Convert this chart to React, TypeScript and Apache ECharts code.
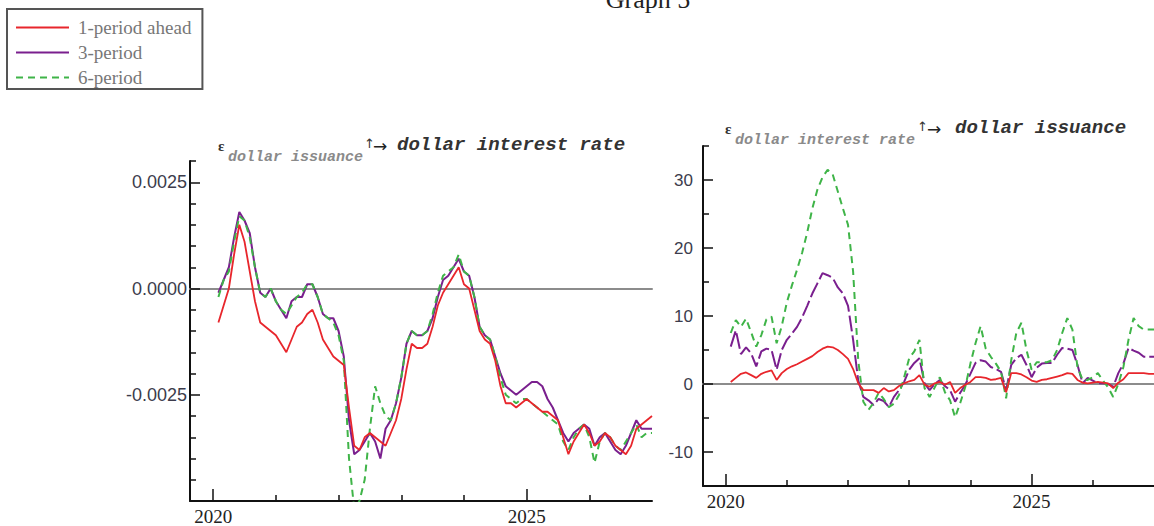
import React, { useEffect, useRef } from "react";
import * as echarts from "echarts";

// Monthly observation dates (decimal years), Feb 2020 .. Jan 2027
const months: number[] = [];
for (let k = 0; k < 84; k++) months.push(+(2020 + (k + 1) / 12).toFixed(4));

// Left panel: response of the dollar interest rate to a dollar-issuance shock
const rate1: number[] = [
  -0.0008, -0.0004, 0.0, 0.0008, 0.0015, 0.0011, 0.0004, -0.0003, -0.0008, -0.0009, -0.001, -0.0011,
  -0.0013, -0.0015, -0.0012, -0.0009, -0.0008, -0.0006, -0.0005, -0.0008, -0.0012, -0.0014, -0.0016, -0.0017,
  -0.0018, -0.0028, -0.0037, -0.0038, -0.0035, -0.0034, -0.0035, -0.0036, -0.0037, -0.0034, -0.0031, -0.0026,
  -0.0019, -0.0013, -0.0014, -0.0014, -0.0013, -0.0009, -0.0004, -0.0001, 0.0001, 0.0003, 0.0005, 0.0001,
  0.0, -0.0005, -0.001, -0.0012, -0.0013, -0.0017, -0.0023, -0.0027, -0.0027, -0.0028, -0.0027, -0.0026,
  -0.0027, -0.0028, -0.0029, -0.0029, -0.003, -0.0031, -0.0035, -0.0039, -0.0036, -0.0034, -0.0032, -0.0034,
  -0.0037, -0.0036, -0.0034, -0.0035, -0.0037, -0.0038, -0.0039, -0.0037, -0.0033, -0.0032, -0.0031, -0.003,
];
const rate3: number[] = [
  -0.0001, 0.0002, 0.0005, 0.0012, 0.0018, 0.0016, 0.0013, 0.0005, -0.0001, -0.0002, 0.0, -0.0003,
  -0.0005, -0.0007, -0.0003, -0.0002, -0.0002, 0.0001, 0.0001, -0.0002, -0.0006, -0.0007, -0.0007, -0.001,
  -0.0016, -0.0031, -0.0039, -0.0038, -0.0036, -0.0034, -0.0036, -0.004, -0.0033, -0.0031, -0.0027, -0.0021,
  -0.0013, -0.001, -0.0011, -0.0011, -0.001, -0.0007, -0.0002, 0.0002, 0.0003, 0.0005, 0.0007, 0.0004,
  0.0003, -0.0002, -0.0009, -0.0011, -0.0012, -0.0016, -0.002, -0.0023, -0.0024, -0.0025, -0.0024, -0.0023,
  -0.0022, -0.0022, -0.0023, -0.0026, -0.0028, -0.0031, -0.0034, -0.0036, -0.0034, -0.0033, -0.0032, -0.0033,
  -0.0037, -0.0035, -0.0034, -0.0036, -0.0038, -0.0039, -0.0037, -0.0034, -0.0031, -0.0033, -0.0033, -0.0033,
];
const rate6: number[] = [
  -0.0002, 0.0002, 0.0004, 0.0011, 0.0017, 0.0016, 0.0012, 0.0005, -0.0001, -0.0002, 0.0, -0.0003,
  -0.0005, -0.0006, -0.0004, -0.0002, -0.0001, 0.0001, 0.0001, -0.0002, -0.0006, -0.0007, -0.0008, -0.0011,
  -0.0017, -0.004, -0.0052, -0.005, -0.0045, -0.0033, -0.0023, -0.0027, -0.003, -0.0031, -0.0027, -0.0021,
  -0.0013, -0.001, -0.0011, -0.0011, -0.001, -0.0006, -0.0001, 0.0003, 0.0004, 0.0005, 0.0008, 0.0004,
  0.0003, -0.0002, -0.0009, -0.0011, -0.0012, -0.0016, -0.0021, -0.0025, -0.0026, -0.0027, -0.0026, -0.0026,
  -0.0027, -0.0028, -0.0029, -0.003, -0.0031, -0.0032, -0.0036, -0.0038, -0.0035, -0.0033, -0.0032, -0.0035,
  -0.0041, -0.0036, -0.0034, -0.0035, -0.0037, -0.0038, -0.0036, -0.0034, -0.0032, -0.0035, -0.0034, -0.0034,
];

// Right panel: response of dollar issuance to a dollar-interest-rate shock
const issue1: number[] = [
  0.3, 0.9, 1.5, 1.7, 1.3, 0.9, 1.5, 1.8, 2.0, 0.6, 1.6, 2.2,
  2.6, 2.9, 3.3, 3.7, 4.1, 4.7, 5.2, 5.5, 5.4, 5.0, 4.4, 3.7,
  2.2, 0.1, -0.9, -0.9, -0.9, -1.3, -0.6, -1.1, -0.9, -0.3, 0.1, 0.4,
  0.6, 1.3, -0.1, -0.4, 0.1, 0.3, -0.1, 0.3, -1.3, -0.6, -0.1, 0.3,
  1.0, 1.0, 0.9, 0.6, 0.7, 0.9, -1.2, 1.6, 1.6, 1.4, 1.0, 0.5,
  0.3, 0.6, 0.7, 0.9, 1.1, 1.3, 1.6, 1.5, 0.6, 0.2, 0.1, 0.2,
  0.3, 0.2, 0.1, -0.6, 0.2, 0.7, 1.6, 1.6, 1.6, 1.6, 1.5, 1.5,
];
const issue3: number[] = [
  5.5, 7.9, 4.4, 5.4, 4.5, 2.6, 4.8, 5.2, 5.0, 2.1, 5.0, 6.5,
  7.4, 8.4, 9.8, 11.5, 13.3, 14.8, 16.3, 16.0, 15.6, 14.2, 13.3, 11.5,
  6.5, 0.5, -1.9, -2.4, -3.1, -2.2, -2.5, -3.4, -1.9, -0.9, 0.3, 2.1,
  3.1, 3.8, 0.1, -0.9, 0.0, 0.6, -0.3, -0.9, -2.6, -1.3, -0.1, 1.5,
  3.1, 3.5, 3.3, 2.5, 2.2, 1.8, -0.9, 2.8, 3.8, 4.3, 2.8, 1.0,
  2.4, 3.0, 3.1, 3.1, 4.3, 5.3, 5.2, 5.0, 2.8, 0.1, 0.9, 0.5,
  0.1, 0.1, 0.0, -0.4, 1.6, 3.0, 5.3, 4.9, 4.6, 4.0, 4.0, 4.0,
];
const issue6: number[] = [
  7.5, 9.4, 8.4, 9.6, 7.6, 5.5, 7.2, 9.5, 9.9, 6.0, 8.5, 12.0,
  14.5, 16.8, 19.3, 22.3, 25.8, 28.6, 30.4, 31.5, 30.8, 28.3, 25.8, 23.4,
  16.5, 3.5, -2.6, -3.8, -2.8, -1.3, -2.2, -3.4, -2.9, -1.6, 1.0, 3.8,
  4.8, 6.5, -0.6, -1.9, -0.5, 1.0, -1.2, -2.4, -4.9, -2.8, -0.4, 3.0,
  6.0, 8.5, 5.2, 4.0, 3.0, 1.8, -2.1, 3.5, 7.5, 9.0, 5.0, 2.1,
  3.2, 3.2, 3.2, 3.5, 5.0, 7.5, 9.7, 8.0, 2.5, 0.6, 0.6, 1.0,
  1.6, 0.5, -0.5, -1.9, 0.0, 2.5, 6.5, 9.7, 8.5, 8.0, 8.0, 8.0,
];

const seriesNames = ["1-period ahead", "3-period", "6-period"];
const majorYears = [2020, 2025];
const minorYears = [2021, 2022, 2023, 2024, 2026];
const rateMajorTicks = [-0.0025, 0, 0.0025];
const rateMinorTicks = [-0.0045, -0.004, -0.0035, -0.003, -0.002, -0.0015, -0.001, -0.0005, 0.0005, 0.001, 0.0015, 0.002, 0.003];
const issueMajorTicks = [-10, 0, 10, 20, 30];
const issueMinorTicks = [-5, 5, 15, 25, 35];

const X_MIN = 2019.63;
const X_MAX = 2027.0;

const RED = "#e8262c";
const PURPLE = "#7a1f8e";
const GREEN = "#3fb448";
const AXIS = "#111";

const pairs = (vals: number[]) => months.map((t, i) => [t, vals[i]]);

function xAxesFor(gridIndex: number) {
  const base = { type: "value", gridIndex, min: X_MIN, max: X_MAX, position: "bottom", splitLine: { show: false } };
  return [
    {
      ...base,
      axisLine: { show: true, onZero: false, lineStyle: { color: AXIS, width: 2 } },
      axisTick: { show: true, inside: true, length: 12, customValues: majorYears, lineStyle: { color: AXIS, width: 1.5 } },
      axisLabel: {
        show: true,
        customValues: majorYears,
        formatter: (v: number) => String(Math.round(v)),
        fontFamily: "Liberation Serif",
        fontSize: 19,
        color: "#222",
        margin: 6,
      },
    },
    {
      ...base,
      axisLine: { show: false, onZero: false },
      axisTick: { show: true, inside: true, length: 6, customValues: minorYears, lineStyle: { color: AXIS, width: 1.5 } },
      axisLabel: { show: false },
    },
    {
      ...base,
      axisLine: { show: true, onZero: true, lineStyle: { color: "#8c8c8c", width: 2 } },
      axisTick: { show: false },
      axisLabel: { show: false },
    },
  ];
}

function yAxesFor(gridIndex: number, min: number, max: number, major: number[], minor: number[], fmt: (v: number) => string, margin: number, size: number) {
  const base = { type: "value", gridIndex, min, max, position: "left", splitLine: { show: false } };
  return [
    {
      ...base,
      axisLine: { show: true, onZero: false, lineStyle: { color: AXIS, width: 2 } },
      axisTick: { show: true, inside: true, length: 10, customValues: major, lineStyle: { color: AXIS, width: 1.5 } },
      axisLabel: { show: true, customValues: major, formatter: fmt, fontFamily: "Liberation Sans", fontSize: size, color: "#3c3c4c", margin },
    },
    {
      ...base,
      axisLine: { show: false, onZero: false },
      axisTick: { show: true, inside: true, length: 6, customValues: minor, lineStyle: { color: AXIS, width: 1.5 } },
      axisLabel: { show: false },
    },
  ];
}

function line(name: string, vals: number[], xi: number, yi: number, color: string, width: number, type: any, z: number) {
  return {
    type: "line",
    name,
    data: pairs(vals),
    xAxisIndex: xi,
    yAxisIndex: yi,
    symbol: "none",
    showSymbol: false,
    clip: true,
    silent: true,
    z,
    itemStyle: { color },
    lineStyle: { color, width, type },
  };
}

const mono = '"Liberation Mono"';

function titleParts(x0: number, yMain: number, sub: string, main: string, subX: number, upX: number, arrowX: number, mainX: number) {
  return [
    { type: "text", x: x0, y: yMain + 1, style: { text: "ε", font: 'bold 15px "Liberation Serif"', fill: "#333", verticalAlign: "middle" } },
    { type: "text", x: subX, y: yMain + 12, style: { text: sub, font: `italic bold 15px ${mono}`, fill: "#8a8a8a", verticalAlign: "middle" } },
    { type: "text", x: upX, y: yMain - 2, style: { text: "↑", font: '13px "DejaVu Sans"', fill: "#333", verticalAlign: "middle" } },
    { type: "text", x: arrowX, y: yMain + 1, style: { text: "→", font: '17px "DejaVu Sans"', fill: "#222", verticalAlign: "middle" } },
    { type: "text", x: mainX, y: yMain, style: { text: main, font: `italic bold 19px ${mono}`, fill: "#333", verticalAlign: "middle" } },
  ];
}

const option: any = {
  animation: false,
  backgroundColor: "#fff",
  grid: [
    { left: 190, top: 161, width: 462, height: 341 },
    { left: 703, top: 146, width: 462, height: 340 },
  ],
  xAxis: [...xAxesFor(0), ...xAxesFor(1)],
  yAxis: [
    ...yAxesFor(0, -0.005, 0.003, rateMajorTicks, rateMinorTicks, (v: number) => v.toFixed(4), 3, 18),
    ...yAxesFor(1, -15, 35, issueMajorTicks, issueMinorTicks, (v: number) => String(Math.round(v)), 10, 17),
  ],
  legend: {
    data: seriesNames,
    orient: "vertical",
    left: 7,
    top: 9,
    itemWidth: 53,
    itemHeight: 14,
    itemGap: 6,
    padding: [9, 11, 2, 8],
    borderColor: "#555",
    borderWidth: 2,
    backgroundColor: "#fff",
    selectedMode: false,
    // only the line sample is drawn, no marker on it
    itemStyle: { opacity: 0 },
    textStyle: { fontFamily: "Liberation Serif", fontSize: 19, color: "#777", padding: [0, 0, 0, 4] },
  },
  series: [
    line(seriesNames[0], rate1, 0, 0, RED, 1.8, "solid", 4),
    line(seriesNames[1], rate3, 0, 0, PURPLE, 2, "solid", 2),
    line(seriesNames[2], rate6, 0, 0, GREEN, 2, [7, 5], 3),
    line(seriesNames[0], issue1, 3, 2, RED, 1.8, "solid", 4),
    line(seriesNames[1], issue3, 3, 2, PURPLE, 2, [16, 4], 2),
    line(seriesNames[2], issue6, 3, 2, GREEN, 2, [7, 5], 3),
  ],
  graphic: [
    { type: "text", x: 648, y: 12, style: { text: "Graph 5", font: '26px "Liberation Serif"', fill: "#222", align: "center", verticalAlign: "bottom" } },
    { type: "line", shape: { x1: 8, y1: 9, x2: 8, y2: 90 }, style: { stroke: "#111", lineWidth: 3 } },
    { type: "line", shape: { x1: 8, y1: 32, x2: 13, y2: 32 }, style: { stroke: "#111", lineWidth: 1.5 } },
    { type: "line", shape: { x1: 8, y1: 57, x2: 13, y2: 57 }, style: { stroke: "#111", lineWidth: 1.5 } },
    ...titleParts(218, 145, "dollar issuance", "dollar interest rate", 228, 364, 373, 397),
    ...titleParts(725, 128, "dollar interest rate", "dollar issuance", 735, 917, 927, 955),
  ],
};

export default function App() {
  const ref = useRef<HTMLDivElement>(null);
  useEffect(() => {
    if (!ref.current) return;
    const chart = echarts.init(ref.current, null, { renderer: "svg" });
    chart.setOption(option);
    return () => chart.dispose();
  }, []);
  return (
    <div
      ref={ref}
      style={{ position: "fixed", left: 0, top: 0, width: 1154, height: 526, background: "#fff" }}
    />
  );
}
